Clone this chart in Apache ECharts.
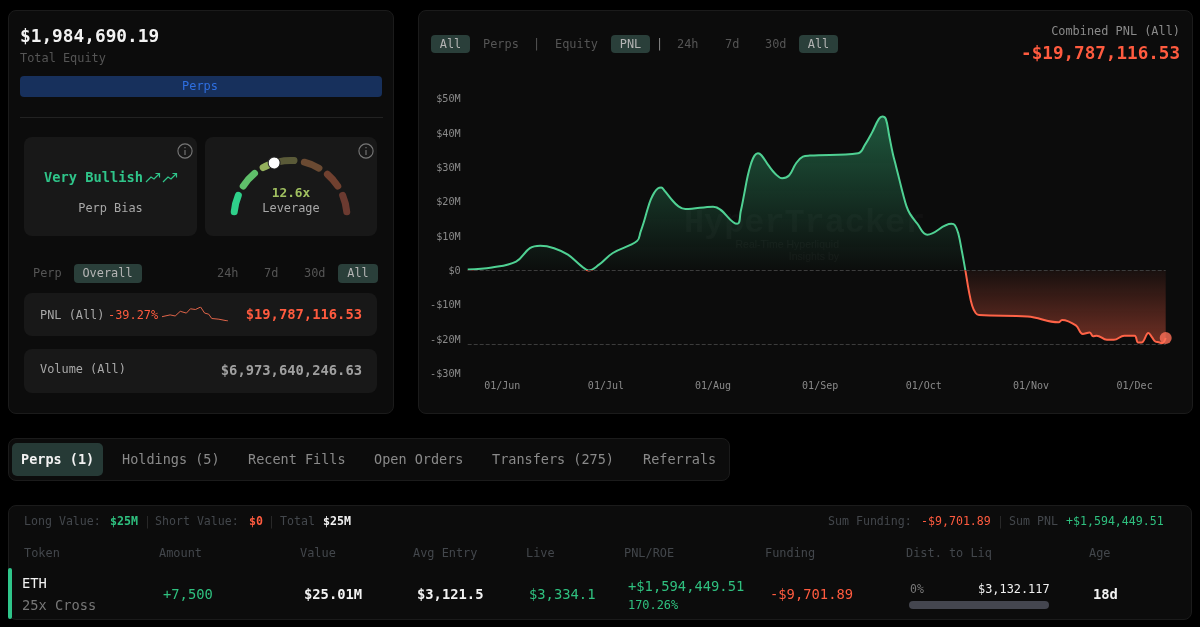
<!DOCTYPE html>
<html><head><meta charset="utf-8">
<script src="https://cdn.jsdelivr.net/npm/echarts@6/dist/echarts.min.js"></script>
<style>
html,body{margin:0;padding:0;background:#000;width:1200px;height:627px;overflow:hidden;font-family:"DejaVu Sans Mono",monospace;}
.c{position:absolute;box-sizing:border-box;}
.card{background:#0c0c0c;border:1px solid #1b1b1b;border-radius:8px;}
.sub{background:#181818;border-radius:8px;}
.pill{background:#2a3f3a;border-radius:4px;}
.t{position:absolute;white-space:nowrap;transform:translateY(calc(-50% + 1px));line-height:1;font-size:11.9px;}
.m{transform:translate(-50%,calc(-50% + 1px));}
.g{color:#2fc07f}.r{color:#ff5b3f}.w{color:#f2f2f2}.d{color:#555}.h{color:#43474c}.n{color:#a8a8a8}
.b{font-weight:bold}
#chart{position:absolute;left:0;top:0;width:1200px;height:627px;z-index:2;}
#txt{position:absolute;left:0;top:0;width:1200px;height:627px;z-index:3;}
#bg{position:absolute;left:0;top:0;width:1200px;height:627px;z-index:1;}
</style></head><body>
<div id="bg">
 <div class="c card" style="left:8px;top:10px;width:386px;height:404px"></div>
 <div class="c card" style="left:418px;top:10px;width:775px;height:404px"></div>
 <div class="c card" style="left:8px;top:438px;width:722px;height:43px"></div>
 <div class="c card" style="left:8px;top:505px;width:1184px;height:115px"></div>
 <div class="c" style="left:8px;top:568px;width:4px;height:51px;background:#2fc58a;border-radius:2px"></div>
 <div class="c" style="left:20px;top:76px;width:362px;height:21px;background:#17305c;border-radius:4px"></div>
 <div class="c" style="left:20px;top:117px;width:363px;height:1px;background:#222"></div>
 <div class="c sub" style="left:24px;top:137px;width:173px;height:99px"></div>
 <div class="c sub" style="left:205px;top:137px;width:172px;height:99px"></div>
 <div class="c pill" style="left:74px;top:264px;width:68px;height:19px"></div>
 <div class="c pill" style="left:338px;top:264px;width:40px;height:19px"></div>
 <div class="c sub" style="left:24px;top:293px;width:353px;height:43px"></div>
 <div class="c sub" style="left:24px;top:349px;width:353px;height:44px"></div>
 <div class="c pill" style="left:431px;top:35px;width:39px;height:18px"></div>
 <div class="c pill" style="left:611px;top:35px;width:39px;height:18px"></div>
 <div class="c pill" style="left:799px;top:35px;width:39px;height:18px"></div>
 <div class="c" style="left:12px;top:443px;width:91px;height:33px;background:#263a36;border-radius:5px"></div>
 <div class="c" style="left:909px;top:601px;width:140px;height:8px;background:#44464f;border-radius:4px"></div>
</div>
<div id="chart"></div>
<div id="txt">
 <div class="t w b" style="left:20px;top:35px;font-size:17.8px">$1,984,690.19</div>
 <div class="t d" style="left:20px;top:58px">Total Equity</div>
 <div class="t m" style="left:200px;top:86px;color:#2f6fe0">Perps</div>

 <div class="t b" style="left:44px;top:177px;font-size:13.7px;color:#2fc58a">Very Bullish</div>
 <svg class="c" style="left:145px;top:171px" width="33" height="13" viewBox="0 0 33 13" fill="none" stroke="#2fc58a" stroke-width="1.2"><path d="M1 11 L6 6 L9 8 L14 3 M10.5 2.5 H14.5 V6.5"/><path d="M18 11 L23 6 L26 8 L31 3 M27.5 2.5 H31.5 V6.5"/></svg>
 <div class="t m n" style="left:110.5px;top:208px">Perp Bias</div>
 <svg class="c" style="left:176px;top:142px" width="18" height="18" viewBox="0 0 16 16" fill="none" stroke="#777" stroke-width="1"><circle cx="8" cy="8" r="6.3"/><path d="M8 7V11.5M8 4.5V5.6"/></svg>
 <svg class="c" style="left:357px;top:142px" width="18" height="18" viewBox="0 0 16 16" fill="none" stroke="#777" stroke-width="1"><circle cx="8" cy="8" r="6.3"/><path d="M8 7V11.5M8 4.5V5.6"/></svg>
 <div class="t m b" style="left:291px;top:192px;font-size:12.8px;color:#a0c060">12.6x</div>
 <div class="t m n" style="left:291px;top:208px">Leverage</div>

 <div class="t d" style="left:33px;top:273px">Perp</div>
 <div class="t m" style="left:107.5px;top:273px;color:#b5b5b5">Overall</div>
 <div class="t d" style="left:217px;top:273px">24h</div>
 <div class="t d" style="left:264px;top:273px">7d</div>
 <div class="t d" style="left:304px;top:273px">30d</div>
 <div class="t m" style="left:358px;top:273px;color:#b5b5b5">All</div>

 <div class="t n" style="left:40px;top:315px">PNL (All)</div>
 <div class="t r" style="left:108px;top:315px">-39.27%</div>
 <div class="t r b" style="right:838px;top:314px;font-size:13.8px">$19,787,116.53</div>
 <div class="t n" style="left:40px;top:369px">Volume (All)</div>
 <div class="t b" style="right:838px;top:370px;font-size:13.8px;color:#a0a0a0">$6,973,640,246.63</div>

 <div class="t m" style="left:450.5px;top:43.5px;color:#b5b5b5">All</div>
 <div class="t d" style="left:483px;top:43.5px">Perps</div>
 <div class="t d" style="left:533px;top:43.5px">|</div>
 <div class="t d" style="left:555px;top:43.5px">Equity</div>
 <div class="t m" style="left:630.5px;top:43.5px;color:#b5b5b5">PNL</div>
 <div class="t" style="left:656px;top:43.5px;color:#888">|</div>
 <div class="t d" style="left:677px;top:43.5px">24h</div>
 <div class="t d" style="left:725px;top:43.5px">7d</div>
 <div class="t d" style="left:765px;top:43.5px">30d</div>
 <div class="t m" style="left:818.5px;top:43.5px;color:#b5b5b5">All</div>
 <div class="t" style="right:20px;top:31px;color:#8a8a8a">Combined PNL (All)</div>
 <div class="t r b" style="right:20px;top:52.5px;font-size:17.6px">-$19,787,116.53</div>

 <div class="t b w" style="left:21px;top:459px;font-size:13.5px">Perps (1)</div>
 <div class="t" style="left:122px;top:459px;font-size:13.5px;color:#8a8a8a">Holdings (5)</div>
 <div class="t" style="left:248px;top:459px;font-size:13.5px;color:#8a8a8a">Recent Fills</div>
 <div class="t" style="left:374px;top:459px;font-size:13.5px;color:#8a8a8a">Open Orders</div>
 <div class="t" style="left:492px;top:459px;font-size:13.5px;color:#8a8a8a">Transfers (275)</div>
 <div class="t" style="left:643px;top:459px;font-size:13.5px;color:#8a8a8a">Referrals</div>

 <div class="t h" style="left:24px;top:521px;font-size:11.6px">Long Value:</div>
 <div class="t g b" style="left:110px;top:521px;font-size:11.6px">$25M</div>
 <div class="t" style="left:144px;top:521px;font-size:11.6px;color:#2a2a2a">|</div>
 <div class="t h" style="left:155px;top:521px;font-size:11.6px">Short Value:</div>
 <div class="t r b" style="left:249px;top:521px;font-size:11.6px">$0</div>
 <div class="t" style="left:268px;top:521px;font-size:11.6px;color:#2a2a2a">|</div>
 <div class="t h" style="left:280px;top:521px;font-size:11.6px">Total</div>
 <div class="t w b" style="left:323px;top:521px;font-size:11.6px">$25M</div>
 <div class="t h" style="left:828px;top:521px;font-size:11.6px">Sum Funding:</div>
 <div class="t r" style="left:921px;top:521px;font-size:11.6px">-$9,701.89</div>
 <div class="t" style="left:997px;top:521px;font-size:11.6px;color:#2a2a2a">|</div>
 <div class="t h" style="left:1009px;top:521px;font-size:11.6px">Sum PNL</div>
 <div class="t g" style="left:1066px;top:521px;font-size:11.6px">+$1,594,449.51</div>

 <div class="t h" style="left:24px;top:553px">Token</div>
 <div class="t h" style="left:159px;top:553px">Amount</div>
 <div class="t h" style="left:300px;top:553px">Value</div>
 <div class="t h" style="left:413px;top:553px">Avg Entry</div>
 <div class="t h" style="left:526px;top:553px">Live</div>
 <div class="t h" style="left:624px;top:553px">PNL/ROE</div>
 <div class="t h" style="left:765px;top:553px">Funding</div>
 <div class="t h" style="left:906px;top:553px">Dist. to Liq</div>
 <div class="t h" style="left:1089px;top:553px">Age</div>

 <div class="t w" style="left:22px;top:583px;font-size:13.8px">ETH</div>
 <div class="t" style="left:22px;top:605px;font-size:13.7px;color:#777">25x Cross</div>
 <div class="t g" style="left:163px;top:594px;font-size:13.8px">+7,500</div>
 <div class="t w b" style="left:304px;top:594px;font-size:13.8px">$25.01M</div>
 <div class="t w b" style="left:417px;top:594px;font-size:13.8px">$3,121.5</div>
 <div class="t g" style="left:529px;top:594px;font-size:13.8px">$3,334.1</div>
 <div class="t g" style="left:628px;top:586px;font-size:13.8px">+$1,594,449.51</div>
 <div class="t g" style="left:628px;top:605px">170.26%</div>
 <div class="t r" style="left:770px;top:594px;font-size:13.8px">-$9,701.89</div>
 <div class="t" style="left:910px;top:589px;font-size:11.5px;color:#777">0%</div>
 <div class="t w" style="left:978px;top:589px">$3,132.117</div>
 <div class="t w b" style="left:1093px;top:594px;font-size:13.8px">18d</div>
</div>
<script>
// Combined PNL history, in $M
const pnlDates = ['2025-05-22','2025-05-29','2025-06-05','2025-06-09','2025-06-12','2025-06-16','2025-06-20','2025-06-24','2025-06-26','2025-06-29','2025-07-03','2025-07-10','2025-07-11','2025-07-12','2025-07-13','2025-07-14','2025-07-15','2025-07-16','2025-07-17','2025-07-18','2025-07-20','2025-07-22','2025-07-24','2025-08-01','2025-08-08','2025-08-09','2025-08-10','2025-08-11','2025-08-12','2025-08-13','2025-08-14','2025-08-15','2025-08-17','2025-08-19','2025-08-21','2025-08-23','2025-08-25','2025-08-27','2025-08-29','2025-09-12','2025-09-14','2025-09-16','2025-09-18','2025-09-19','2025-09-20','2025-09-21','2025-09-22','2025-09-23','2025-09-24','2025-09-25','2025-09-26','2025-09-27','2025-09-29','2025-10-02','2025-10-09','2025-10-10','2025-10-11','2025-10-12','2025-10-13','2025-10-14','2025-10-15','2025-10-16','2025-10-17','2025-10-31','2025-11-09','2025-11-10','2025-11-14','2025-11-16','2025-11-18','2025-11-19','2025-11-20','2025-11-23','2025-11-25','2025-11-28','2025-12-01','2025-12-02','2025-12-03','2025-12-05','2025-12-06','2025-12-07','2025-12-08','2025-12-09','2025-12-10'];
const pnlValues = [0.1,0.7,2.4,6.3,7.0,6.3,4.4,1.0,-0.2,1.5,4.9,8.4,11.0,14.0,17.5,20.5,22.5,23.7,24.0,23.0,20.5,18.5,17.7,18.4,13.4,17.0,22.0,27.2,31.0,33.3,34.0,33.4,30.5,28.0,26.7,27.5,31.0,33.0,33.3,34.0,36.5,40.0,44.0,44.7,44.0,39.0,34.0,30.0,26.0,22.0,18.5,16.3,13.6,10.2,13.4,13.0,10.5,5.5,0,-6.0,-10.5,-12.6,-13.2,-13.6,-15.3,-14.6,-16.2,-18.7,-18.3,-19.4,-19.2,-20.4,-20.4,-19.2,-19.2,-21.2,-21.2,-18.4,-19.6,-20.9,-21.1,-21.4,-19.9];
const yTicks = {min:-30,max:50,step:10};
const pnlFloor = -21.6;
// Leverage gauge
const gaugeSegments = [22,22,13,21,21,21,22];
const gaugeColors = ['#2fd08a','#5fbf6a','#93b05c','#5a5a38','#6a4a32','#70402f','#6b3a30'];
const leverage = 12.6, leverageMax = 31;
// Mini PNL sparkline
const sparkX = [0,8,13,18,24,28,33,38,42,46,49,56,65];
const sparkY = [15,20,17,30,25,37,35,42,25,22,10,8,3];
const pnlData = pnlDates.map((d,i)=>[d,pnlValues[i]]);
const green='#4fd193', red='#ff6347';
const zeroStop=(270.3-117)/(345-117);
const lineGrad={type:'linear',x:0,y:117,x2:0,y2:345,global:true,colorStops:[
 {offset:0,color:green},{offset:zeroStop,color:green},{offset:zeroStop,color:red},{offset:1,color:red}]};
const areaGrad={type:'linear',x:0,y:117,x2:0,y2:345,global:true,colorStops:[
 {offset:0,color:'rgba(52,170,115,0.68)'},{offset:zeroStop,color:'rgba(52,170,115,0.02)'},
 {offset:zeroStop,color:'rgba(255,99,71,0.08)'},{offset:1,color:'rgba(255,99,71,0.6)'}]};
const chart=echarts.init(document.getElementById('chart'),null,{renderer:'canvas',width:1200,height:627});
const MON=['Jan','Feb','Mar','Apr','May','Jun','Jul','Aug','Sep','Oct','Nov','Dec'];
const FONT='"DejaVu Sans Mono",monospace';
chart.setOption({
 animation:false,backgroundColor:'transparent',textStyle:{fontFamily:FONT},
 graphic:[
  {type:'text',left:684,top:207,z:0,silent:true,style:{text:'HyperTracker',fill:'rgba(255,255,255,0.025)',font:'bold 33.5px "Liberation Mono"'}},
  {type:'text',right:361,top:240,z:0,silent:true,style:{text:'Real-Time Hyperliquid',fill:'rgba(255,255,255,0.035)',font:'10.5px "Liberation Sans"',align:'right'}},
  {type:'text',right:361,top:252,z:0,silent:true,style:{text:'Insights by',fill:'rgba(255,255,255,0.035)',font:'10.5px "Liberation Sans"',align:'right'}}
 ],
 grid:[
  {left:467.7,top:98.3,width:698,height:274.4},
  {left:162,top:307,width:66,height:14}
 ],
 xAxis:[
  {type:'time',gridIndex:0,min:'2025-05-22',max:'2025-12-10',splitNumber:7,axisLine:{show:false},axisTick:{show:false},splitLine:{show:false},
   axisLabel:{color:'#8a8a8a',fontFamily:FONT,fontSize:10,margin:9,hideOverlap:false,showMinLabel:false,showMaxLabel:false,
    formatter:v=>{const d=new Date(v);return d.getDate()===1?'01/'+MON[d.getMonth()]:'';}}},
  {type:'value',gridIndex:1,min:0,max:65,show:false}
 ],
 yAxis:[
  {type:'value',gridIndex:0,min:yTicks.min,max:yTicks.max,interval:yTicks.step,axisLine:{show:false},axisTick:{show:false},splitLine:{show:false},
   axisLabel:{color:'#8a8a8a',fontFamily:FONT,fontSize:10.2,margin:7,lineHeight:13,verticalAlign:'top',padding:[-5,0,0,0],formatter:v=>(v<0?'-$'+(-v):'$'+v)+(v===0?'':'M')}},
  {type:'value',gridIndex:1,min:3,max:42,show:false}
 ],
 series:[
  {type:'line',xAxisIndex:0,yAxisIndex:0,z:3,data:pnlData,smooth:0.4,showSymbol:false,silent:true,
   lineStyle:{width:2,color:lineGrad},itemStyle:{color:green},areaStyle:{color:areaGrad},
   markLine:{silent:true,symbol:'none',label:{show:false},lineStyle:{color:'#3c3c3c',type:'dashed',width:1},data:[{yAxis:0},{yAxis:pnlFloor}]}},
  {type:'scatter',xAxisIndex:0,yAxisIndex:0,z:4,silent:true,symbolSize:12,itemStyle:{color:'#ff6f58'},data:[pnlData[pnlData.length-1]]},
  {type:'line',xAxisIndex:1,yAxisIndex:1,data:sparkX.map((x,i)=>[x,sparkY[i]]),showSymbol:false,silent:true,lineStyle:{width:1,color:'#e0654a'}},
  {type:'pie',center:[290.5,217],radius:[53,60],startAngle:180,endAngle:0,padAngle:3.5,silent:true,label:{show:false},labelLine:{show:false},
   itemStyle:{borderRadius:4},data:gaugeSegments.map((v,i)=>({value:v,itemStyle:{color:gaugeColors[i]}}))},
  {type:'gauge',center:[290.5,217],radius:57,min:0,max:leverageMax,startAngle:180,endAngle:0,z:5,silent:true,
   axisLine:{show:false},axisTick:{show:false},splitLine:{show:false},axisLabel:{show:false},detail:{show:false},title:{show:false},anchor:{show:false},
   pointer:{icon:'circle',length:12,width:12,offsetCenter:[0,-50.5],itemStyle:{color:'#fff',borderColor:'#222',borderWidth:1}},
   data:[{value:leverage}]}
 ]
});
</script>
</body></html>
